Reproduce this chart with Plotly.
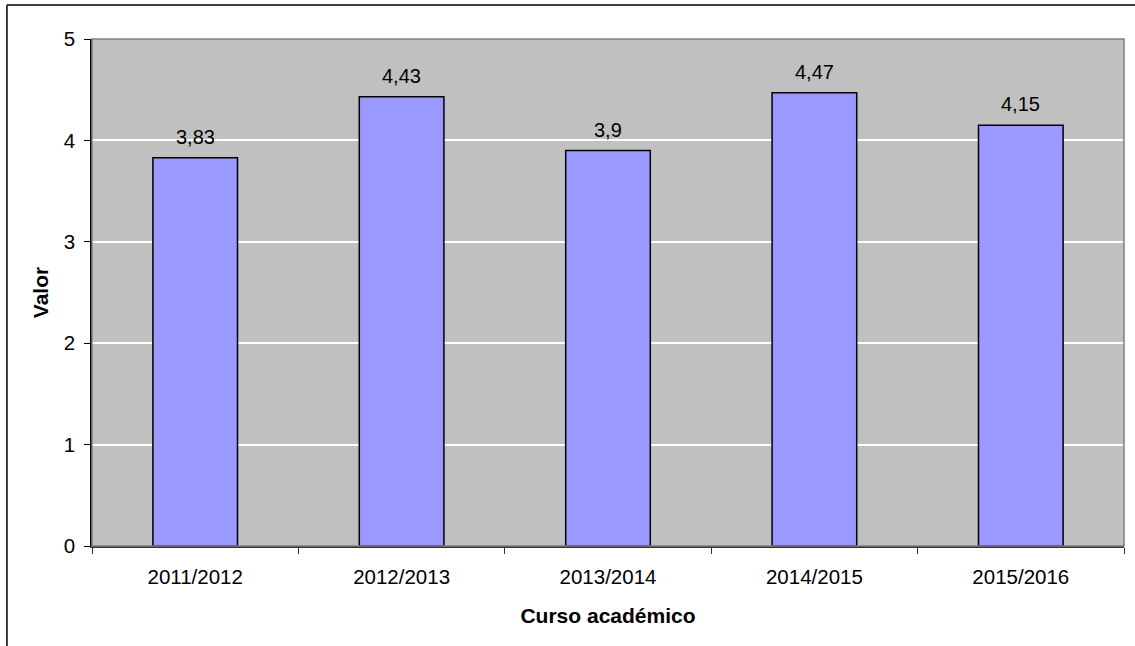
import plotly.graph_objects as go

cursos = ['2011/2012', '2012/2013', '2013/2014', '2014/2015', '2015/2016']
valores = [3.83, 4.43, 3.9, 4.47, 4.15]
etiquetas = [str(v).replace('.', ',') for v in valores]

fig = go.Figure()

fig.add_trace(go.Bar(
    x=cursos,
    y=valores,
    width=0.41,
    marker=dict(color='#9999FF', line=dict(color='black', width=1.5)),
    showlegend=False,
    hoverinfo='x+y',
))

annotations = []
for c, v, t in zip(cursos, valores, etiquetas):
    annotations.append(dict(x=c, y=v, text=t, showarrow=False, xanchor='center',
                            yanchor='bottom', yshift=8,
                            font=dict(family='Liberation Sans, Arial', size=20, color='black')))

# chart border (top and left edges visible in the reference)
shapes = [
    dict(type='line', xref='paper', yref='paper', x0=-0.0824, x1=1.2, y0=1.067, y1=1.067,
         line=dict(color='black', width=1.5)),
    dict(type='line', xref='paper', yref='paper', x0=-0.0824, x1=-0.0824, y0=1.067, y1=-0.3,
         line=dict(color='black', width=1.5)),
    # plot area frame
    dict(type='rect', xref='paper', yref='paper', x0=0, x1=1, y0=0, y1=1,
         line=dict(color='#808080', width=1.5), layer='above'),
]

fig.update_layout(
    width=1135,
    height=646,
    margin=dict(l=92, r=11, t=39, b=100, autoexpand=False),
    paper_bgcolor='white',
    plot_bgcolor='#C0C0C0',
    separators=',.',
    font=dict(family='Liberation Sans, Arial', size=20, color='black'),
    xaxis=dict(
        title=dict(text='<b>Curso académico</b>', standoff=21,
                   font=dict(size=21)),
        tickfont=dict(size=20.5),
        showline=True, linecolor='#333333', linewidth=1.5,
        ticks='outside', ticklen=6, tickcolor='#333333', tickson='boundaries',
        ticklabelstandoff=12,
        showgrid=False, automargin=False,
    ),
    yaxis=dict(
        title=dict(text='<b>Valor</b>', standoff=9, font=dict(size=21)),
        tickfont=dict(size=20.5),
        range=[0, 5], dtick=1,
        showline=True, linecolor='black', linewidth=1.5, mirror=False,
        ticks='outside', ticklen=6, tickcolor='black',
        ticklabelstandoff=5,
        showgrid=True, gridcolor='white', gridwidth=1.5,
        zeroline=False, automargin=False,
    ),
    shapes=shapes,
    annotations=annotations,
)

fig.write_html('out.html', config=dict(displayModeBar=False),
               post_script="document.body.style.margin='0';")
